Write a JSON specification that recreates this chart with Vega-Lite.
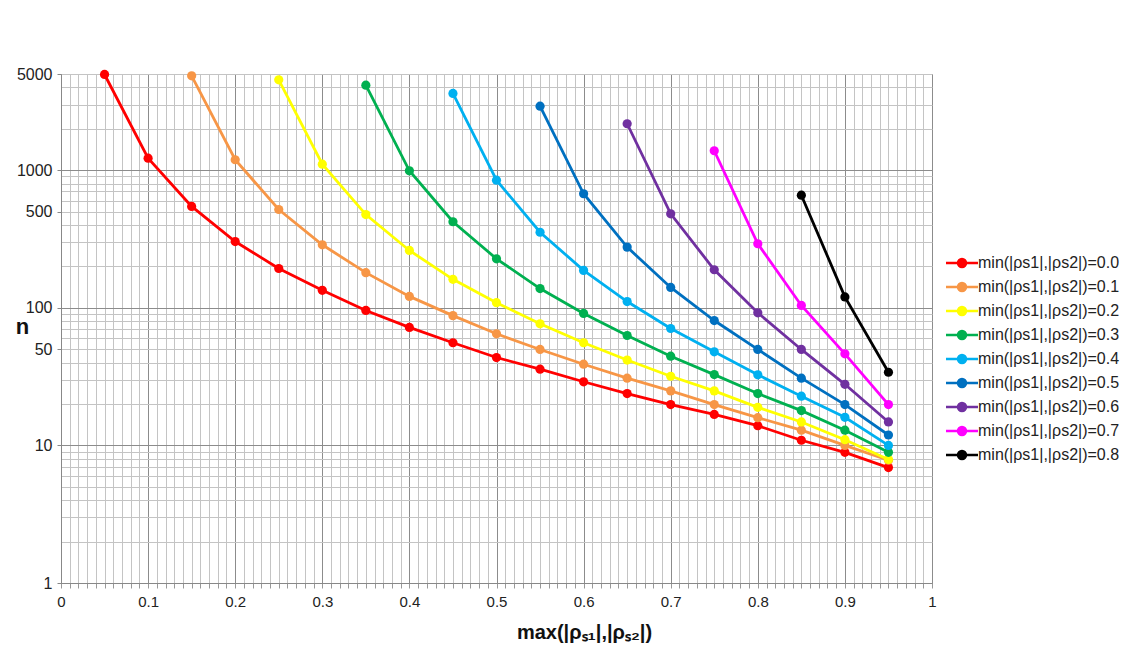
{
  "$schema": "https://vega.github.io/schema/vega-lite/v6.json",
  "autosize": "none",
  "width": 871,
  "height": 509,
  "padding": {"left": 61, "top": 74, "right": 204, "bottom": 65},
  "background": "white",
  "config": {
    "view": {"stroke": "#999999", "strokeWidth": 1},
    "font": "Liberation Sans"
  },
  "data": {
    "values": [
      {"m": "min(|ρs1|,|ρs2|)=0.0", "x": 0.05, "n": 4960},
      {"m": "min(|ρs1|,|ρs2|)=0.0", "x": 0.10, "n": 1222},
      {"m": "min(|ρs1|,|ρs2|)=0.0", "x": 0.15, "n": 545},
      {"m": "min(|ρs1|,|ρs2|)=0.0", "x": 0.20, "n": 303},
      {"m": "min(|ρs1|,|ρs2|)=0.0", "x": 0.25, "n": 193},
      {"m": "min(|ρs1|,|ρs2|)=0.0", "x": 0.30, "n": 134},
      {"m": "min(|ρs1|,|ρs2|)=0.0", "x": 0.35, "n": 95.6},
      {"m": "min(|ρs1|,|ρs2|)=0.0", "x": 0.40, "n": 72},
      {"m": "min(|ρs1|,|ρs2|)=0.0", "x": 0.45, "n": 55.7},
      {"m": "min(|ρs1|,|ρs2|)=0.0", "x": 0.50, "n": 43.5},
      {"m": "min(|ρs1|,|ρs2|)=0.0", "x": 0.55, "n": 35.8},
      {"m": "min(|ρs1|,|ρs2|)=0.0", "x": 0.60, "n": 29.0},
      {"m": "min(|ρs1|,|ρs2|)=0.0", "x": 0.65, "n": 23.8},
      {"m": "min(|ρs1|,|ρs2|)=0.0", "x": 0.70, "n": 19.8},
      {"m": "min(|ρs1|,|ρs2|)=0.0", "x": 0.75, "n": 16.8},
      {"m": "min(|ρs1|,|ρs2|)=0.0", "x": 0.80, "n": 13.9},
      {"m": "min(|ρs1|,|ρs2|)=0.0", "x": 0.85, "n": 10.9},
      {"m": "min(|ρs1|,|ρs2|)=0.0", "x": 0.90, "n": 8.9},
      {"m": "min(|ρs1|,|ρs2|)=0.0", "x": 0.95, "n": 6.9},
      {"m": "min(|ρs1|,|ρs2|)=0.1", "x": 0.15, "n": 4850},
      {"m": "min(|ρs1|,|ρs2|)=0.1", "x": 0.20, "n": 1191},
      {"m": "min(|ρs1|,|ρs2|)=0.1", "x": 0.25, "n": 518},
      {"m": "min(|ρs1|,|ρs2|)=0.1", "x": 0.30, "n": 287},
      {"m": "min(|ρs1|,|ρs2|)=0.1", "x": 0.35, "n": 180},
      {"m": "min(|ρs1|,|ρs2|)=0.1", "x": 0.40, "n": 121},
      {"m": "min(|ρs1|,|ρs2|)=0.1", "x": 0.45, "n": 87.7},
      {"m": "min(|ρs1|,|ρs2|)=0.1", "x": 0.50, "n": 64.7},
      {"m": "min(|ρs1|,|ρs2|)=0.1", "x": 0.55, "n": 49.8},
      {"m": "min(|ρs1|,|ρs2|)=0.1", "x": 0.60, "n": 38.9},
      {"m": "min(|ρs1|,|ρs2|)=0.1", "x": 0.65, "n": 30.8},
      {"m": "min(|ρs1|,|ρs2|)=0.1", "x": 0.70, "n": 24.9},
      {"m": "min(|ρs1|,|ρs2|)=0.1", "x": 0.75, "n": 19.8},
      {"m": "min(|ρs1|,|ρs2|)=0.1", "x": 0.80, "n": 15.9},
      {"m": "min(|ρs1|,|ρs2|)=0.1", "x": 0.85, "n": 12.9},
      {"m": "min(|ρs1|,|ρs2|)=0.1", "x": 0.90, "n": 10.0},
      {"m": "min(|ρs1|,|ρs2|)=0.1", "x": 0.95, "n": 7.8},
      {"m": "min(|ρs1|,|ρs2|)=0.2", "x": 0.25, "n": 4540},
      {"m": "min(|ρs1|,|ρs2|)=0.2", "x": 0.30, "n": 1106},
      {"m": "min(|ρs1|,|ρs2|)=0.2", "x": 0.35, "n": 476},
      {"m": "min(|ρs1|,|ρs2|)=0.2", "x": 0.40, "n": 261},
      {"m": "min(|ρs1|,|ρs2|)=0.2", "x": 0.45, "n": 161},
      {"m": "min(|ρs1|,|ρs2|)=0.2", "x": 0.50, "n": 109},
      {"m": "min(|ρs1|,|ρs2|)=0.2", "x": 0.55, "n": 76.5},
      {"m": "min(|ρs1|,|ρs2|)=0.2", "x": 0.60, "n": 55.7},
      {"m": "min(|ρs1|,|ρs2|)=0.2", "x": 0.65, "n": 41.7},
      {"m": "min(|ρs1|,|ρs2|)=0.2", "x": 0.70, "n": 31.8},
      {"m": "min(|ρs1|,|ρs2|)=0.2", "x": 0.75, "n": 24.9},
      {"m": "min(|ρs1|,|ρs2|)=0.2", "x": 0.80, "n": 18.9},
      {"m": "min(|ρs1|,|ρs2|)=0.2", "x": 0.85, "n": 14.8},
      {"m": "min(|ρs1|,|ρs2|)=0.2", "x": 0.90, "n": 11.0},
      {"m": "min(|ρs1|,|ρs2|)=0.2", "x": 0.95, "n": 7.9},
      {"m": "min(|ρs1|,|ρs2|)=0.3", "x": 0.35, "n": 4150},
      {"m": "min(|ρs1|,|ρs2|)=0.3", "x": 0.40, "n": 990},
      {"m": "min(|ρs1|,|ρs2|)=0.3", "x": 0.45, "n": 422},
      {"m": "min(|ρs1|,|ρs2|)=0.3", "x": 0.50, "n": 227},
      {"m": "min(|ρs1|,|ρs2|)=0.3", "x": 0.55, "n": 138},
      {"m": "min(|ρs1|,|ρs2|)=0.3", "x": 0.60, "n": 91},
      {"m": "min(|ρs1|,|ρs2|)=0.3", "x": 0.65, "n": 62.9},
      {"m": "min(|ρs1|,|ρs2|)=0.3", "x": 0.70, "n": 44.5},
      {"m": "min(|ρs1|,|ρs2|)=0.3", "x": 0.75, "n": 32.7},
      {"m": "min(|ρs1|,|ρs2|)=0.3", "x": 0.80, "n": 23.8},
      {"m": "min(|ρs1|,|ρs2|)=0.3", "x": 0.85, "n": 17.9},
      {"m": "min(|ρs1|,|ρs2|)=0.3", "x": 0.90, "n": 12.9},
      {"m": "min(|ρs1|,|ρs2|)=0.3", "x": 0.95, "n": 8.9},
      {"m": "min(|ρs1|,|ρs2|)=0.4", "x": 0.45, "n": 3610},
      {"m": "min(|ρs1|,|ρs2|)=0.4", "x": 0.50, "n": 846},
      {"m": "min(|ρs1|,|ρs2|)=0.4", "x": 0.55, "n": 354},
      {"m": "min(|ρs1|,|ρs2|)=0.4", "x": 0.60, "n": 187},
      {"m": "min(|ρs1|,|ρs2|)=0.4", "x": 0.65, "n": 111},
      {"m": "min(|ρs1|,|ρs2|)=0.4", "x": 0.70, "n": 70.7},
      {"m": "min(|ρs1|,|ρs2|)=0.4", "x": 0.75, "n": 47.9},
      {"m": "min(|ρs1|,|ρs2|)=0.4", "x": 0.80, "n": 32.6},
      {"m": "min(|ρs1|,|ρs2|)=0.4", "x": 0.85, "n": 22.8},
      {"m": "min(|ρs1|,|ρs2|)=0.4", "x": 0.90, "n": 16.0},
      {"m": "min(|ρs1|,|ρs2|)=0.4", "x": 0.95, "n": 10.0},
      {"m": "min(|ρs1|,|ρs2|)=0.5", "x": 0.55, "n": 2918},
      {"m": "min(|ρs1|,|ρs2|)=0.5", "x": 0.60, "n": 674},
      {"m": "min(|ρs1|,|ρs2|)=0.5", "x": 0.65, "n": 276},
      {"m": "min(|ρs1|,|ρs2|)=0.5", "x": 0.70, "n": 140.6},
      {"m": "min(|ρs1|,|ρs2|)=0.5", "x": 0.75, "n": 80.8},
      {"m": "min(|ρs1|,|ρs2|)=0.5", "x": 0.80, "n": 49.8},
      {"m": "min(|ρs1|,|ρs2|)=0.5", "x": 0.85, "n": 30.8},
      {"m": "min(|ρs1|,|ρs2|)=0.5", "x": 0.90, "n": 19.8},
      {"m": "min(|ρs1|,|ρs2|)=0.5", "x": 0.95, "n": 11.9},
      {"m": "min(|ρs1|,|ρs2|)=0.6", "x": 0.65, "n": 2175},
      {"m": "min(|ρs1|,|ρs2|)=0.6", "x": 0.70, "n": 482},
      {"m": "min(|ρs1|,|ρs2|)=0.6", "x": 0.75, "n": 189},
      {"m": "min(|ρs1|,|ρs2|)=0.6", "x": 0.80, "n": 92},
      {"m": "min(|ρs1|,|ρs2|)=0.6", "x": 0.85, "n": 49.8},
      {"m": "min(|ρs1|,|ρs2|)=0.6", "x": 0.90, "n": 27.8},
      {"m": "min(|ρs1|,|ρs2|)=0.6", "x": 0.95, "n": 14.8},
      {"m": "min(|ρs1|,|ρs2|)=0.7", "x": 0.75, "n": 1384},
      {"m": "min(|ρs1|,|ρs2|)=0.7", "x": 0.80, "n": 292},
      {"m": "min(|ρs1|,|ρs2|)=0.7", "x": 0.85, "n": 104},
      {"m": "min(|ρs1|,|ρs2|)=0.7", "x": 0.90, "n": 46.3},
      {"m": "min(|ρs1|,|ρs2|)=0.7", "x": 0.95, "n": 19.8},
      {"m": "min(|ρs1|,|ρs2|)=0.8", "x": 0.85, "n": 658},
      {"m": "min(|ρs1|,|ρs2|)=0.8", "x": 0.90, "n": 120},
      {"m": "min(|ρs1|,|ρs2|)=0.8", "x": 0.95, "n": 34.0}
    ]
  },
  "mark": {"type": "line", "strokeWidth": 2.8, "point": {"filled": true, "size": 85}},
  "encoding": {
    "x": {
      "field": "x",
      "type": "quantitative",
      "scale": {"domain": [0, 1], "nice": false, "zero": false},
      "axis": {
        "values": [0,0.01,0.02,0.03,0.04,0.05,0.06,0.07,0.08,0.09,0.1,0.11,0.12,0.13,0.14,0.15,0.16,0.17,0.18,0.19,0.2,0.21,0.22,0.23,0.24,0.25,0.26,0.27,0.28,0.29,0.3,0.31,0.32,0.33,0.34,0.35,0.36,0.37,0.38,0.39,0.4,0.41,0.42,0.43,0.44,0.45,0.46,0.47,0.48,0.49,0.5,0.51,0.52,0.53,0.54,0.55,0.56,0.57,0.58,0.59,0.6,0.61,0.62,0.63,0.64,0.65,0.66,0.67,0.68,0.69,0.7,0.71,0.72,0.73,0.74,0.75,0.76,0.77,0.78,0.79,0.8,0.81,0.82,0.83,0.84,0.85,0.86,0.87,0.88,0.89,0.9,0.91,0.92,0.93,0.94,0.95,0.96,0.97,0.98,0.99,1],
        "labelExpr": "round(datum.value*100) % 10 === 0 ? format(datum.value, '.1~f') : ''",
        "labelFont": "Liberation Sans",
        "labelFontSize": 15,
        "labelColor": "#222222",
        "labelPadding": 6,
        "labelOverlap": false,
        "labelFlush": false,
        "tickSize": 5,
        "tickColor": "#999999",
        "domainColor": "#888888",
        "grid": true,
        "gridColor": {"condition": {"test": "round(datum.value*100) % 10 === 0", "value": "#8C8C8C"}, "value": "#C4C4C4"},
        "gridWidth": 1,
        "title": "max(|ρₛ₁|,|ρₛ₂|)",
        "titleFont": "Liberation Sans",
        "titleFontSize": 20,
        "titleFontWeight": "bold",
        "titleColor": "#111111",
        "titleX": 523,
        "titleY": 49,
        "titleAlign": "center",
        "titleBaseline": "middle"
      }
    },
    "y": {
      "field": "n",
      "type": "quantitative",
      "scale": {"type": "log", "domain": [1, 5000], "nice": false},
      "axis": {
        "values": [1,2,3,4,5,6,7,8,9,10,20,30,40,50,60,70,80,90,100,200,300,400,500,600,700,800,900,1000,2000,3000,4000,5000],
        "labelExpr": "indexof([1,10,50,100,500,1000,5000], datum.value) >= 0 ? format(datum.value, 'd') : ''",
        "labelFont": "Liberation Sans",
        "labelFontSize": 16,
        "labelColor": "#222222",
        "labelPadding": 5,
        "labelOverlap": false,
        "labelFlush": false,
        "tickSize": 4,
        "tickColor": {"condition": {"test": "indexof([1,10,50,100,500,1000,5000], datum.value) >= 0", "value": "#888888"}, "value": "transparent"},
        "domainColor": "#888888",
        "grid": true,
        "gridColor": {"condition": {"test": "indexof([1,10,100,1000], datum.value) >= 0", "value": "#8C8C8C"}, "value": "#C4C4C4"},
        "gridWidth": 1,
        "title": "n",
        "titleFont": "Liberation Sans",
        "titleFontSize": 22,
        "titleFontWeight": "bold",
        "titleColor": "#111111",
        "titleAngle": 0,
        "titleX": -39,
        "titleY": 252,
        "titleAlign": "center",
        "titleBaseline": "middle"
      }
    },
    "color": {
      "field": "m",
      "type": "nominal",
      "scale": {
        "domain": ["min(|ρs1|,|ρs2|)=0.0","min(|ρs1|,|ρs2|)=0.1","min(|ρs1|,|ρs2|)=0.2","min(|ρs1|,|ρs2|)=0.3","min(|ρs1|,|ρs2|)=0.4","min(|ρs1|,|ρs2|)=0.5","min(|ρs1|,|ρs2|)=0.6","min(|ρs1|,|ρs2|)=0.7","min(|ρs1|,|ρs2|)=0.8"],
        "range": ["#FF0000","#F79646","#FFFF00","#00B050","#00B0F0","#0070C0","#7030A0","#FF00FF","#000000"]
      },
      "legend": {
        "title": null,
        "orient": "none",
        "legendX": 893,
        "legendY": 181,
        "symbolType": "M-4,0H4M-1,0A1,1,0,1,1,1,0A1,1,0,1,1,-1,0Z",
        "symbolSize": 64,
        "symbolStrokeWidth": 2.5,
        "labelFont": "Liberation Sans",
        "labelFontSize": 16,
        "labelColor": "#222222",
        "labelOffset": 8,
        "labelLimit": 300,
        "rowPadding": 6,
        "encode": {"symbols": {"update": {"fill": {"scale": "color", "field": "value"}, "stroke": {"scale": "color", "field": "value"}}}}
      }
    }
  }
}
